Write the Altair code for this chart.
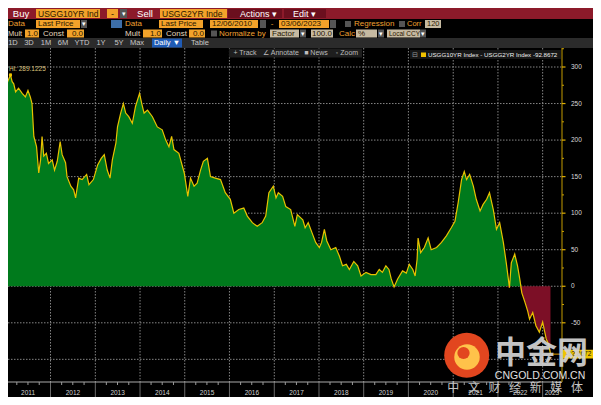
import altair as alt
import pandas as pd

# ---------------- data ----------------
DATES = [
    "2010-12-06", "2010-12-20", "2011-01-05", "2011-01-21", "2011-02-08", "2011-02-22",
    "2011-03-07", "2011-03-22", "2011-04-15", "2011-05-15", "2011-06-10", "2011-07-01",
    "2011-07-20", "2011-08-03", "2011-08-18", "2011-09-09", "2011-09-27", "2011-10-12",
    "2011-10-24", "2011-11-07", "2011-11-28", "2011-12-16", "2012-01-15", "2012-02-03",
    "2012-02-25", "2012-03-20", "2012-04-05", "2012-05-03", "2012-05-15", "2012-06-15",
    "2012-07-08", "2012-07-24", "2012-08-18", "2012-09-15", "2012-10-22", "2012-11-10",
    "2012-12-16", "2013-01-20", "2013-02-18", "2013-03-15", "2013-04-08", "2013-05-01",
    "2013-05-20", "2013-06-18", "2013-07-01", "2013-07-27", "2013-08-18", "2013-09-06",
    "2013-10-01", "2013-10-30", "2013-11-25", "2013-12-28", "2014-01-15", "2014-02-03",
    "2014-03-03", "2014-04-12", "2014-05-22", "2014-07-01", "2014-07-30", "2014-08-25",
    "2014-09-16", "2014-10-05", "2014-11-14", "2014-12-28", "2015-01-26", "2015-02-17",
    "2015-03-18", "2015-04-12", "2015-05-10", "2015-06-02", "2015-07-05", "2015-07-30",
    "2015-09-08", "2015-10-20", "2015-11-28", "2016-01-08", "2016-02-06", "2016-03-17",
    "2016-04-27", "2016-05-26", "2016-07-06", "2016-08-15", "2016-09-24", "2016-10-23",
    "2016-11-18", "2016-12-24", "2017-01-15", "2017-02-03", "2017-03-10", "2017-04-05",
    "2017-05-15", "2017-06-18", "2017-07-08", "2017-08-22", "2017-09-10", "2017-10-05",
    "2017-11-10", "2017-12-05", "2018-01-04", "2018-01-22", "2018-02-14", "2018-03-06",
    "2018-04-08", "2018-05-18", "2018-06-17", "2018-07-12", "2018-08-12", "2018-09-06",
    "2018-10-12", "2018-11-13", "2018-12-10", "2019-01-20", "2019-03-01", "2019-04-10",
    "2019-05-08", "2019-06-03", "2019-07-01", "2019-07-26", "2019-08-14", "2019-09-06",
    "2019-10-05", "2019-11-14", "2019-12-15", "2020-01-08", "2020-02-06", "2020-02-25",
    "2020-03-12", "2020-03-20", "2020-04-10", "2020-05-10", "2020-06-10", "2020-07-05",
    "2020-08-18", "2020-09-27", "2020-11-06", "2020-12-16", "2021-01-15", "2021-02-10",
    "2021-03-10", "2021-04-01", "2021-04-20", "2021-05-15", "2021-06-14", "2021-07-08",
    "2021-08-08", "2021-09-02", "2021-10-01", "2021-10-24", "2021-11-24", "2021-12-20",
    "2022-01-15", "2022-02-14", "2022-03-10", "2022-04-05", "2022-04-20", "2022-05-18",
    "2022-06-10", "2022-06-28", "2022-07-15", "2022-08-10", "2022-09-01", "2022-09-16",
    "2022-10-12", "2022-11-07", "2022-12-05", "2023-01-01", "2023-01-30", "2023-02-20",
    "2023-03-06",
]
SPREAD = [
    275, 279, 275, 282, 289.1225, 280,
    277, 266, 271, 264, 259, 268,
    259, 250, 205, 191, 155, 173,
    205, 178, 182, 168, 173, 159,
    171, 198, 180, 169, 150, 137,
    132, 121, 148, 146, 153, 139,
    146, 166, 175, 180, 159, 148,
    173, 196, 218, 237, 250, 237,
    232, 223, 246, 264, 250, 237,
    241, 232, 218, 214, 200, 191,
    205, 187, 182, 155, 123, 148,
    137, 141, 159, 171, 175, 150,
    148, 146, 128, 119, 100, 105,
    107, 96, 87, 82, 87, 96,
    128, 137, 121, 128, 123, 109,
    105, 82, 98, 91, 80, 87,
    71, 60, 53, 60, 78, 62,
    50, 53, 41, 28, 30, 23,
    34, 28, 14, 19, 16, 16,
    23, 19, 28, 23, 10, -1,
    10, 21, 18, 30, 23, 14,
    37, 66, 46, 53, 66, 50,
    53, 60, 69, 80, 89, 114,
    146, 157, 146, 153, 137, 119,
    103, 112, 119, 128, 105, 78,
    87, 60, 32, -2, 32, 44,
    28, 10, -9, -22, -34, -45,
    -36, -54, -63, -49, -72, -80,
    -92.8672,
]
HI_LABEL = "Hi: 289.1225"
LAST_LABEL = "-92.8672"
LEGEND_TEXT = "USGG10YR Index - USGG2YR Index -92.8672"
YEAR_LABELS = ["2011", "2012", "2013", "2014", "2015", "2016", "2017",
               "2018", "2019", "2020", "2021", "2022", "2023"]
YEAR_LABEL_DATES = ["2011-07-02", "2012-07-02", "2013-07-02", "2014-07-02", "2015-07-02",
                    "2016-07-02", "2017-07-02", "2018-07-02", "2019-07-02", "2020-07-02",
                    "2021-07-02", "2022-07-02", "2023-03-18"]
GRID_YEARS = ["2012-01-01", "2013-01-01", "2014-01-01", "2015-01-01", "2016-01-01",
              "2017-01-01", "2018-01-01", "2019-01-01", "2020-01-01", "2021-01-01",
              "2022-01-01", "2023-01-01"]
Y_TICKS = [-100, -50, 0, 50, 100, 150, 200, 250, 300]
Y_TICK_LABELS = ["", "-50", "0", "50", "100", "150", "200", "250", "300"]  # -100 hidden by last-price tag
Y_MINOR = [-125, -75, -25, 25, 75, 125, 175, 225, 275, 325]

FONT = "Liberation Sans"
CJK = "Noto Sans CJK SC"
W_PLOT, H_PLOT = 554, 334

df = pd.DataFrame({"date": DATES, "v": SPREAD})
df["pos"] = df["v"].clip(lower=0)
df["neg"] = df["v"].clip(upper=0)
peak = df.loc[[df["v"].idxmax()]].assign(t=HI_LABEL)
last = df.iloc[[-1]].assign(t=LAST_LABEL)

quarters = pd.DataFrame({"q": [f"{y}-{m:02d}-01" for y in range(2011, 2024) for m in (4, 7, 10)
                               if (y, m) <= (2023, 4)]})
years_df = pd.DataFrame({"d": YEAR_LABEL_DATES, "label": YEAR_LABELS})
grid_x_df = pd.DataFrame({"g": GRID_YEARS})
yt_df = pd.DataFrame({"m": Y_TICKS, "lab": Y_TICK_LABELS})
minor_df = pd.DataFrame({"m": Y_MINOR})

x_scale = alt.Scale(type="utc", domain=[alt.DateTime(year=2011, month=1, date=19, utc=True),
                                        alt.DateTime(year=2023, month=6, date=8, utc=True)])
y_scale = alt.Scale(domain=[-131, 326], nice=False, zero=False)


def X(f):
    return alt.X(f, scale=x_scale, axis=None)


def Y(f):
    return alt.Y(f, scale=y_scale, axis=None)


GRID = "#858585"
hgrid = alt.Chart(yt_df).mark_rule(color=GRID, strokeDash=[1.5, 1.5], strokeWidth=1).encode(
    y=Y("m:Q"), x=alt.value(0), x2=alt.value(W_PLOT))
vgrid = alt.Chart(grid_x_df).mark_rule(color=GRID, strokeDash=[1.5, 1.5], strokeWidth=1).encode(
    x=X("g:T"), y=alt.value(0), y2=alt.value(H_PLOT))
vgrid_low = alt.Chart(grid_x_df).mark_rule(color="#6a6a6a", strokeWidth=1).encode(
    x=X("g:T"), y=alt.value(H_PLOT), y2=alt.value(H_PLOT + 16))

base = alt.Chart(df)
green = base.mark_area(color="#007a1c", clip=True).encode(
    x=X("date:T"), y=Y("pos:Q"), y2=alt.datum(0))
red = base.mark_area(color="#7c0f26", clip=True).encode(
    x=X("date:T"), y=Y("neg:Q"), y2=alt.datum(0))
line = base.mark_line(color="#e8c200", strokeWidth=1.2, clip=True).encode(
    x=X("date:T"), y=Y("v:Q"))

x_domain = alt.Chart().mark_rule(color="#aaaaaa").encode(
    x=alt.value(0), x2=alt.value(W_PLOT), y=alt.value(H_PLOT))
y_domain = alt.Chart().mark_rule(color="#c49c00").encode(
    x=alt.value(W_PLOT), y=alt.value(0), y2=alt.value(H_PLOT))
yticks = alt.Chart(yt_df).mark_rule(color="#e2b000", strokeWidth=1.2).encode(
    y=Y("m:Q"), x=alt.value(W_PLOT), x2=alt.value(W_PLOT + 3.5))
ylabs = alt.Chart(yt_df).mark_text(align="left", baseline="middle", fontSize=6.5, font=FONT,
                                   color="#dadada").encode(
    y=Y("m:Q"), x=alt.value(W_PLOT + 9), text="lab:N")
minor = alt.Chart(minor_df).mark_rule(color="#c9a000").encode(
    y=Y("m:Q"), x=alt.value(W_PLOT), x2=alt.value(W_PLOT + 2))
qticks = alt.Chart(quarters).mark_rule(color="#9a9a9a").encode(
    x=X("q:T"), y=alt.value(H_PLOT), y2=alt.value(H_PLOT + 3))
xlabs = alt.Chart(years_df).mark_text(fontSize=6.5, font=FONT, color="#d2d2d2").encode(
    x=X("d:T"), y=alt.value(H_PLOT + 11), text="label:N")

peak_pt = alt.Chart(peak).mark_square(size=9, color="#f2c800", opacity=1).encode(
    x=X("date:T"), y=Y("v:Q"))
peak_txt = alt.Chart(peak).mark_text(align="left", dx=-1.5, dy=-6, fontSize=6.5, font=FONT,
                                     color="#d9c27a").encode(
    x=X("date:T"), y=Y("v:Q"), text="t:N")

last_rule = alt.Chart(last).mark_rule(color="#e0a000", strokeWidth=1).encode(
    x=X("date:T"), x2=alt.value(556), y=Y("v:Q"))
last_box = alt.Chart(last).mark_point(shape="M-1.6,-0.45H1.6V0.45H-1.6Z", size=376, filled=True,
                                      opacity=1, color="#f0c400").encode(
    x=alt.value(570.5), y=Y("v:Q"))
last_txt = alt.Chart(last).mark_text(color="#111111", fontSize=6.5, font=FONT).encode(
    x=alt.value(570.5), y=Y("v:Q"), text="t:N")

# ---------------- terminal header (layout, pixel positions) ----------------
RED, DRED, ORG, TAN, GRY = "#8c1a2a", "#6b0f1e", "#f2a22a", "#c6baa2", "#555555"
OTXT, LTXT, DTXT, WH, BTN = "#f0a030", "#e4d6be", "#2b1800", "#ffffff", "#c8c8c8"
rects, texts = [], []


def R(x1, x2, y1, y2, c):
    rects.append(dict(x=x1 - 8, x2=x2 - 8, y=y1, y2=y2, c=c))


def T(x, y, s, c, size=8.0, align="left"):
    texts.append(dict(x=x - 8, y=y, label=s, c=c, size=size, align=align))


# row 1
R(8, 610, -40, -29, RED)
b1 = (-39, -30)
R(36, 100, *b1, ORG); R(107, 118, *b1, ORG); R(120, 127, *b1, GRY); R(160, 227, *b1, ORG)
R(228, 282, *b1, DRED); R(284, 326, *b1, DRED)
y1 = -34.5
T(21, y1, "Buy", WH, 9.5, "center"); T(38, y1, "USGG10YR Ind", DTXT, 8.5)
T(112.5, y1, "-", DTXT, 9, "center"); T(123.5, y1, "▾", WH, 7, "center")
T(145, y1, "Sell", WH, 9.5, "center"); T(162, y1, "USGG2YR Inde", DTXT, 8.5)
T(240, y1, "Actions ▾", WH, 9); T(293, y1, "Edit ▾", WH, 9)
# row 2
b2 = (-28, -20)
R(36, 80, *b2, ORG); R(81, 87, *b2, GRY); R(111, 122, *b2, "#3d6ea8"); R(159, 203, *b2, ORG)
R(210, 258, *b2, ORG); R(260, 266, *b2, GRY); R(279, 329, *b2, ORG); R(330, 336, *b2, GRY)
R(345, 351, -27, -21, GRY); R(399, 405, -27, -21, GRY); R(425, 441, *b2, TAN)
y2 = -24
T(8, y2, "Data", OTXT); T(38, y2, "Last Price", DTXT); T(84, y2, "▾", WH, 7, "center")
T(125, y2, "Data", OTXT); T(161, y2, "Last Price", DTXT); T(212, y2, "12/06/2010", DTXT)
T(272, y2, "-", OTXT, 8, "center"); T(281, y2, "03/06/2023", DTXT)
T(354, y2, "Regression", OTXT); T(407, y2, "Corr", OTXT, 7.5); T(427, y2, "120", DTXT, 7.5)
# row 3
b3 = (-18.5, -10.5)
R(25, 39, *b3, ORG); R(67, 84, *b3, ORG); R(143, 162, *b3, ORG); R(189, 205, *b3, ORG)
R(211, 217, -17.5, -11.5, GRY); R(270, 299, *b3, TAN); R(300, 306, *b3, GRY)
R(311, 333, *b3, TAN); R(356, 377, *b3, TAN); R(378, 384, *b3, GRY)
R(387, 420, *b3, TAN); R(420, 426, *b3, GRY)
y3 = -14.5
T(8, y3, "Mult", LTXT, 7.5); T(38, y3, "1.0", DTXT, 8, "right"); T(43, y3, "Const", LTXT)
T(83, y3, "0.0", DTXT, 8, "right"); T(125, y3, "Mult", LTXT)
T(161, y3, "1.0", DTXT, 8, "right"); T(166, y3, "Const", LTXT)
T(204, y3, "0.0", DTXT, 8, "right"); T(219, y3, "Normalize by", OTXT)
T(272, y3, "Factor", DTXT); T(303, y3, "▾", WH, 7, "center")
T(332, y3, "100.0", DTXT, 8, "right"); T(339, y3, "Calc", OTXT); T(358, y3, "%", DTXT)
T(381, y3, "▾", WH, 7, "center"); T(389, y3, "Local CCY", DTXT, 6.5)
T(423, y3, "▾", WH, 7, "center")
# row 4
R(8, 610, -10, 0, "#2b2b2b"); R(152, 182, -9.5, -0.5, "#1f5bb5")
for lab, cx in [("1D", 13), ("3D", 29), ("1M", 46), ("6M", 63), ("YTD", 82), ("1Y", 101),
                ("5Y", 119), ("Max", 137), ("Table", 200)]:
    T(cx, -5, lab, BTN, 7.5, "center")
T(167, -5, "Daily ▼", WH, 7.5, "center")
# row 5 (over the top of the plot)
R(229, 362, 0.5, 9.5, "#1e1e1e")
T(245, 5, "+ Track", "#bdbdbd", 7, "center"); T(281, 5, "∠ Annotate", "#bdbdbd", 7, "center")
T(316, 5, "■ News", "#bdbdbd", 7, "center"); T(347, 5, "◦ Zoom", "#bdbdbd", 7, "center")
R(410, 561, 2, 11, "#161616"); R(421, 426, 4.5, 9, "#f2c200")
T(415, 6.5, "⊟", "#9a9a9a", 7, "center"); T(428, 6.7, LEGEND_TEXT, "#f0f0f0", 6.2)

rect_df = pd.DataFrame(rects)
text_df = pd.DataFrame(texts)

hdr_rects = alt.Chart(rect_df).mark_rect().encode(
    x=alt.X("x:Q", scale=None, axis=None), x2="x2:Q",
    y=alt.Y("y:Q", scale=None, axis=None), y2="y2:Q",
    color=alt.Color("c:N", scale=None, legend=None))

hdr_texts = []
for (al, sz), sub in text_df.groupby(["align", "size"]):
    hdr_texts.append(
        alt.Chart(sub).mark_text(align=al, baseline="middle", fontSize=float(sz), font=FONT).encode(
            x=alt.X("x:Q", scale=None, axis=None), y=alt.Y("y:Q", scale=None, axis=None),
            text="label:N", color=alt.Color("c:N", scale=None, legend=None)))

# ---------------- watermark ----------------
logo = alt.Chart().mark_point(shape="circle", size=2025, filled=True, opacity=1,
                              color="#e2461f").encode(x=alt.value(458.7), y=alt.value(307.3))
swirl = alt.Chart().mark_point(shape="circle", size=650, filled=True, opacity=1,
                               color="#ffc24a").encode(x=alt.value(459), y=alt.value(309))
swirl_cut = alt.Chart().mark_point(shape="circle", size=150, filled=True, opacity=1,
                                   color="#e2461f").encode(x=alt.value(455.5), y=alt.value(305))
wm1 = alt.Chart().mark_text(text="中金网", font=CJK, fontSize=31, fontWeight="bold",
                            color="#d4d4d4", opacity=0.92, align="left",
                            baseline="middle").encode(x=alt.value(487), y=alt.value(305.5))
wm2 = alt.Chart().mark_text(text="CNGOLD.COM.CN", font=FONT, fontSize=10.5, color="#e0e0e0",
                            align="center", baseline="middle").encode(x=alt.value(532), y=alt.value(327.5))
wm3 = []
for i, ch in enumerate("中文财经新媒体"):
    wm3.append(alt.Chart().mark_text(text=ch, font=CJK, fontSize=12, color="#c4c4c4",
                                     align="center", baseline="middle").encode(
        x=alt.value(445.3 + i * 20.6), y=alt.value(340)))

chart = alt.layer(
    hgrid, vgrid, vgrid_low, green, red, line, x_domain, y_domain, yticks, minor, ylabs,
    qticks, xlabs, peak_pt, peak_txt, last_rule, last_box, last_txt, hdr_rects, *hdr_texts,
    logo, swirl, swirl_cut, wm1, wm2, *wm3,
).properties(
    width=W_PLOT, height=H_PLOT,
    padding={"left": 0, "top": 40, "right": 31, "bottom": 15},
    autosize="none", background="#000000",
).configure_view(stroke=None)

chart.save("out.html", embed_options={"renderer": "svg", "actions": False})
